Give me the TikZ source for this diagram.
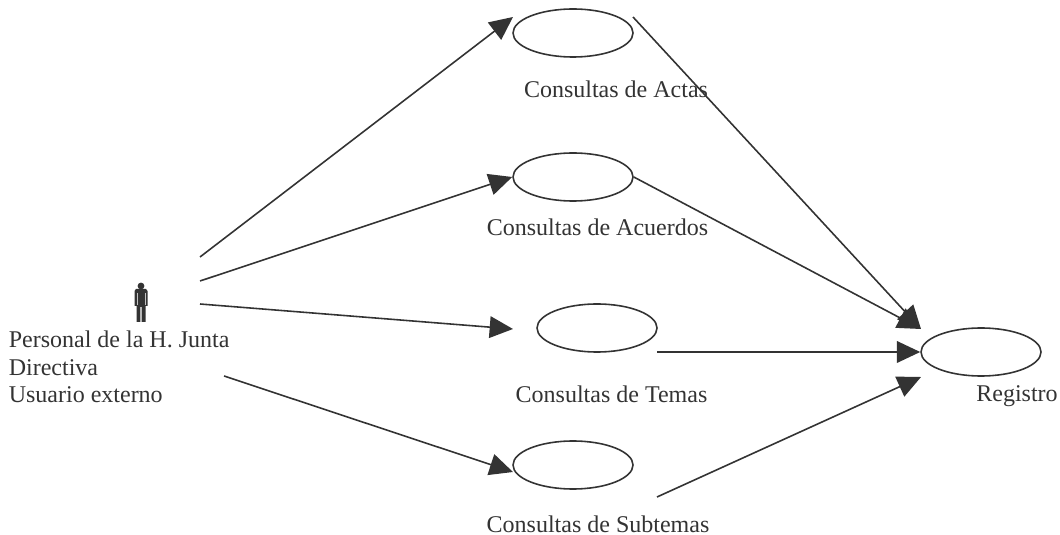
\documentclass[tikz,border=0pt]{standalone}
\usepackage{fontspec}
\setmainfont{Liberation Serif}
\usetikzlibrary{shapes.geometric,arrows.meta}
\definecolor{inkgray}{gray}{0.2}
\tikzset{
x=0.6pt,
y=-0.6pt,
every path/.style={draw=inkgray, line width=0.95pt},
>={Triangle[length=14pt,width=13pt]},
usecase/.style={ellipse, draw=inkgray, line width=0.95pt, minimum width=72pt, minimum height=28.8pt, inner sep=0pt},
caption/.style={text=inkgray, anchor=base, font=\fontsize{14.4}{16.5}\selectfont, inner sep=0pt, draw=none},
}

\begin{document}
\begin{tikzpicture}
        \useasboundingbox[draw=none] (0,0) rectangle (1060,535);

        \node[usecase] (actas) at (573,33) {};
        \node[usecase] (acuerdos) at (573,177) {};
        \node[usecase] (temas) at (597,328) {};
        \node[usecase] (subtemas) at (573,465) {};
        \node[usecase] (registro) at (981,352) {};

        \node[caption] (lactas) at (616,98) {Consultas de Actas};
        \node[caption] (lacuerdos) at (597.5,236) {Consultas de Acuerdos};
        \node[caption] (ltemas) at (611.5,403) {Consultas de Temas};
        \node[caption] (lsubtemas) at (598,532) {Consultas de Subtemas};
        \node[caption] (lregistro) at (1017,402) {Registro};
        \node[caption, anchor=base west] (lactor1) at (8,348) {Personal de la H. Junta};
        \node[caption, anchor=base west] (lactor2) at (8,376) {Directiva};
        \node[caption, anchor=base west] (lactor3) at (8,403) {Usuario externo};

        % actor
        \fill[inkgray, draw=none] (141,286) circle (3.4);
        \fill[inkgray, draw=none] (136,289) -- (146,289) -- (147.5,291) -- (147.5,306) -- (145.5,306) -- (145.5,322) -- (141.6,322) -- (141.6,307) -- (140.4,307) -- (140.4,322) -- (136.5,322) -- (136.5,306) -- (134.5,306) -- (134.5,291) -- cycle;
        \draw[draw=white!70!inkgray, line width=0.3pt] (137,293) -- (137,305);
        \draw[draw=white!70!inkgray, line width=0.3pt] (145,293) -- (145,305);

        \coordinate (a1) at (200,257);
        \coordinate (a2) at (200,281);
        \coordinate (a3) at (200,304);
        \coordinate (a4) at (224,376);
        \coordinate (in1) at (513,17);
        \coordinate (in3) at (513,329);
        \coordinate (in4) at (513,472);
        \coordinate (out1) at (633,17);
        \coordinate (out3) at (657,352);
        \coordinate (out4) at (657,497);
        \coordinate (reg1) at (921,329);
        \coordinate (reg3) at (921,377);

        \draw[->] (a1) -- (in1);
        \draw[->] (a2) -- (acuerdos.west);
        \draw[->] (a3) -- (in3);
        \draw[->] (a4) -- (in4);

        \draw[->] (out1) -- (reg1);
        \draw[->] (acuerdos.east) -- (reg1);
        \draw[->] (out3) -- (registro.west);
        \draw[->] (out4) -- (reg3);
    \end{tikzpicture}
\end{document}
